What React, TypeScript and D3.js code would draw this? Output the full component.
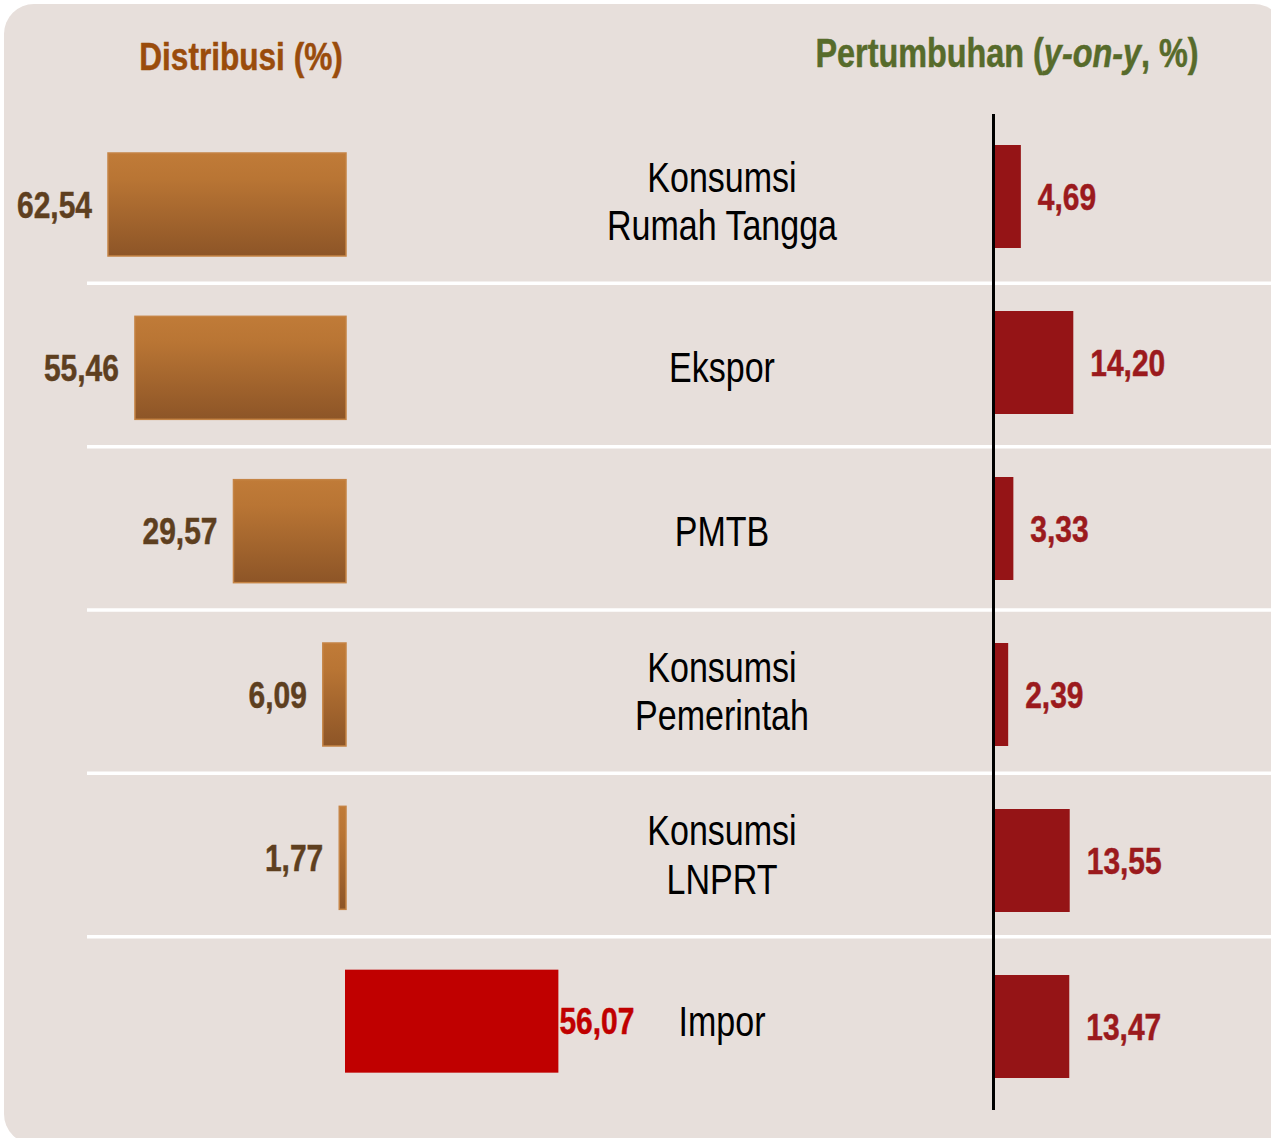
import React from "react";
import * as d3 from "d3";

const categories = ["Konsumsi Rumah Tangga", "Ekspor", "PMTB", "Konsumsi Pemerintah", "Konsumsi LNPRT", "Impor"];
const categoryLines = [["Konsumsi", "Rumah Tangga"], ["Ekspor"], ["PMTB"], ["Konsumsi", "Pemerintah"], ["Konsumsi", "LNPRT"], ["Impor"]];
const distribusi = [62.54, 55.46, 29.57, 6.09, 1.77, 56.07];
const pertumbuhan = [4.69, 14.2, 3.33, 2.39, 13.55, 13.47];
const isImport = [false, false, false, false, false, true];

const W = 1271;
const H = 1138;
const FONT = "'Liberation Sans', Arial, sans-serif";
const NARROW = 0.81;
const fmt = (v: number) => v.toFixed(2).replace(".", ",");

function NText(props: {
  x: number;
  y: number;
  size: number;
  anchor?: string;
  weight?: string;
  fill: string;
  heavy?: boolean;
  children: React.ReactNode;
}) {
  const { x, y, size, anchor = "start", weight = "normal", fill, heavy = false, children } = props;
  return (
    <text
      transform={`translate(${x},${y}) scale(${NARROW},1)`}
      textAnchor={anchor}
      fontSize={size}
      fontWeight={weight}
      fill={fill}
      stroke={heavy ? fill : "none"}
      strokeWidth={heavy ? 0.5 : 0}
      fontFamily={FONT}
    >
      {children}
    </text>
  );
}

export default function App() {
  const y = d3.scaleBand<string>().domain(categories).range([120, 1100]).paddingInner(0).paddingOuter(0);
  const step = y.step();
  const yr = d3.scaleBand<string>().domain(categories).range([145, 145 + 6 * 166]).paddingInner(0).paddingOuter(0);
  const barOffset = 33;
  const barH = 103;
  const xd = d3.scaleLinear().domain([0, 62.54]).range([0, 238]);
  const distRight = 346;
  const xg = d3.scaleLinear().domain([0, 14.2]).range([995, 1073.3]);

  return (
    <svg width={W} height={H} style={{ position: "absolute", left: 0, top: 0 }}>
      <defs>
        <linearGradient id="brownGrad" x1="0" y1="0" x2="0" y2="1">
          <stop offset="0%" stopColor="#c07b38" />
          <stop offset="25%" stopColor="#b97534" />
          <stop offset="100%" stopColor="#8d5527" />
        </linearGradient>
      </defs>
      <rect x={0} y={0} width={W} height={H} fill="#ffffff" />
      <rect x={4} y={4} width={1280} height={1140} rx={30} ry={30} fill="#e7dfdb" />

      <NText x={241} y={70} size={39} weight="bold" anchor="middle" fill="#9a4c0c" heavy>
        Distribusi (%)
      </NText>
      <NText x={1007} y={67} size={40} weight="bold" anchor="middle" fill="#576b2b" heavy>
        Pertumbuhan (<tspan fontStyle="italic">y-on-y</tspan>, %)
      </NText>

      {categories.slice(0, -1).map((c) => (
        <line
          key={"sep" + c}
          x1={87}
          x2={W}
          y1={(y(c) as number) + step}
          y2={(y(c) as number) + step}
          stroke="#ffffff"
          strokeWidth={3.5}
        />
      ))}

      {categories.map((c, i) => {
        const top = (y(c) as number) + barOffset;
        const cy = top + barH / 2;
        const v = distribusi[i];
        const len = xd(v);
        const g = pertumbuhan[i];
        const rTop = yr(c) as number;
        const rcy = rTop + barH / 2;
        const lines = categoryLines[i];
        const lineBase = lines.length > 1 ? cy + 11.5 : cy + 14.5;
        return (
          <g key={c}>
            {isImport[i] ? (
              <>
                <rect x={distRight - 1} y={top} width={len} height={barH} fill="#c00000" />
                <NText x={distRight - 1 + len + 1} y={cy + 13} size={37} weight="bold" fill="#c00000" heavy>
                  {fmt(v)}
                </NText>
              </>
            ) : (
              <>
                <rect
                  x={distRight - len}
                  y={top}
                  width={len}
                  height={barH}
                  fill="url(#brownGrad)"
                  stroke="#c58445"
                  strokeWidth={1.5}
                />
                <NText x={distRight - len - 16} y={cy + 13} size={37} weight="bold" anchor="end" fill="#5e3f1f" heavy>
                  {fmt(v)}
                </NText>
              </>
            )}
            {lines.map((ln, j) => (
              <NText
                key={ln}
                x={722}
                y={lineBase + (j - (lines.length - 1) / 2) * 48.5}
                size={42}
                anchor="middle"
                fill="#000000"
              >
                {ln}
              </NText>
            ))}
            <rect x={xg(0)} y={rTop} width={xg(g) - xg(0)} height={barH} fill="#951416" />
            <NText x={xg(g) + 17} y={rcy + 13.5} size={37} weight="bold" fill="#9b1a1d" heavy>
              {fmt(g)}
            </NText>
          </g>
        );
      })}

      <line x1={993.5} x2={993.5} y1={114} y2={1110} stroke="#000000" strokeWidth={3} />
    </svg>
  );
}
